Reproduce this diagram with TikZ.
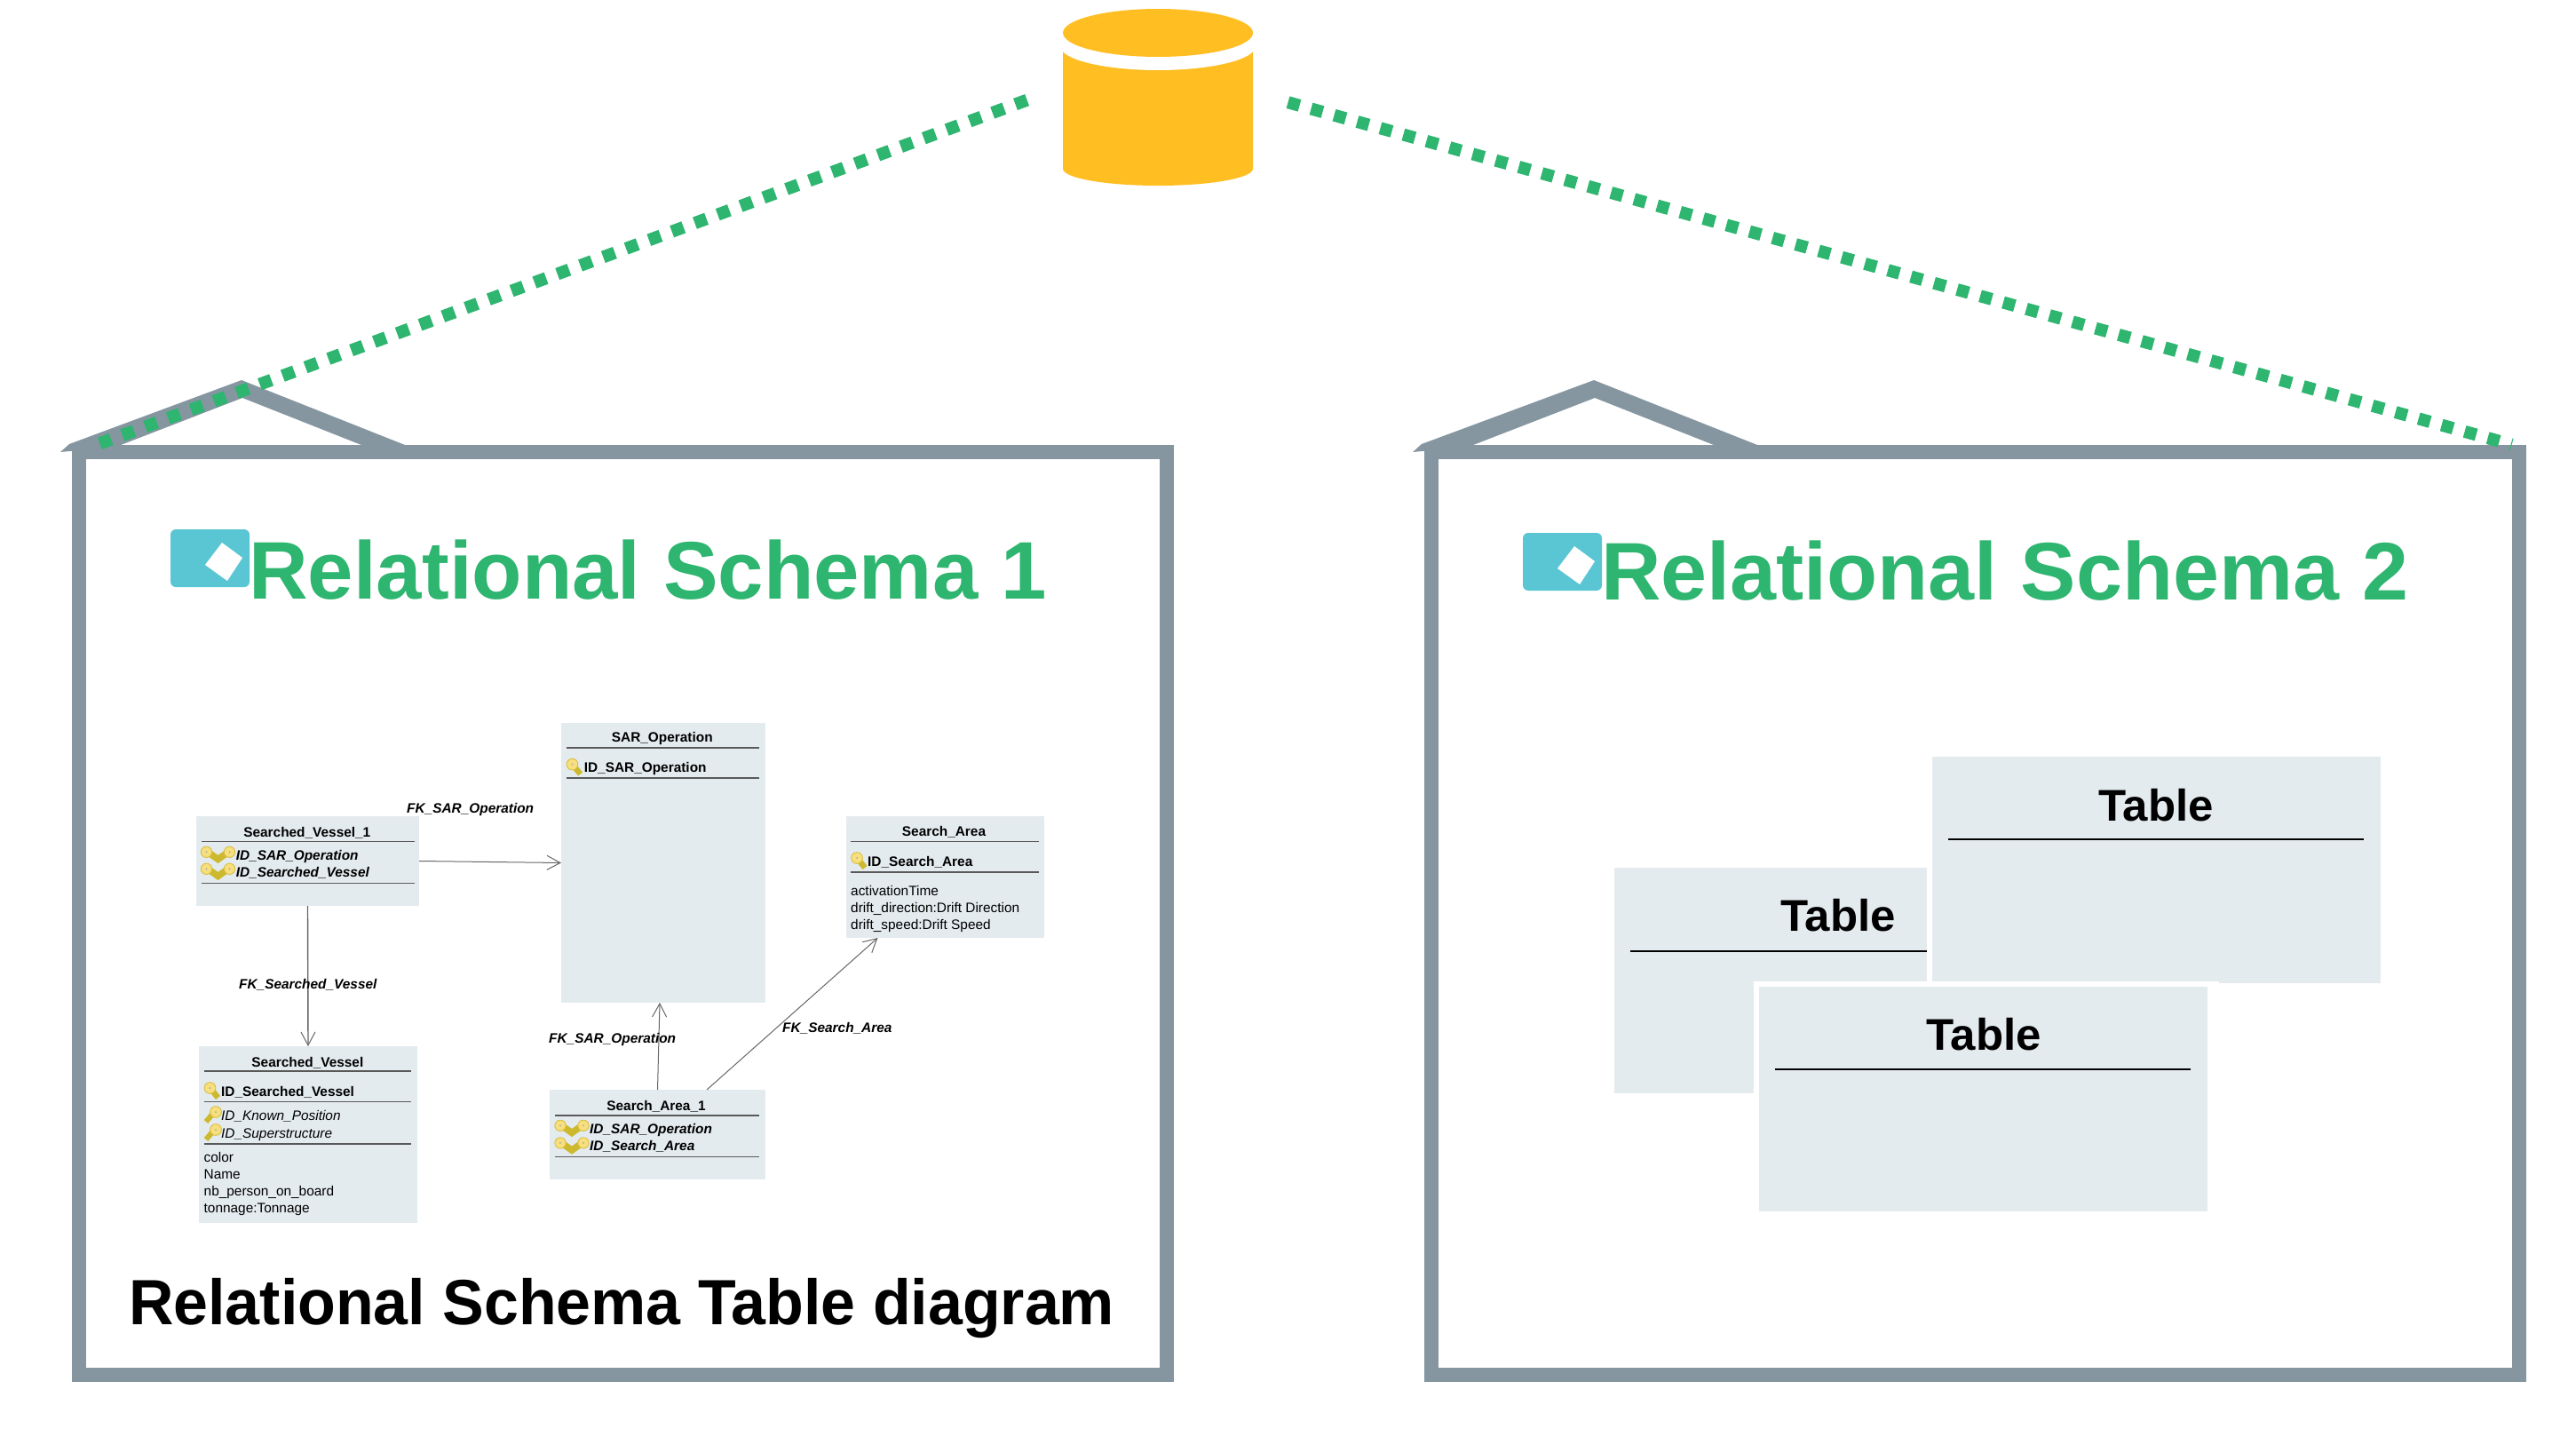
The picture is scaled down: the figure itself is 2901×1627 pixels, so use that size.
\documentclass[tikz,border=0pt]{standalone}
\usepackage{fontspec}
\setmainfont{Liberation Sans}
\usetikzlibrary{arrows.meta}
\definecolor{framegray}{HTML}{8596A1}
\definecolor{boxfill}{HTML}{E4EBEF}
\definecolor{schemagreen}{HTML}{2EB56F}
\definecolor{dbyellow}{HTML}{FFBE22}
\definecolor{iconteal}{HTML}{5BC6D3}
\definecolor{keyface}{HTML}{F6DF7C}
\definecolor{keyedge}{HTML}{D6BC3C}
\definecolor{keyshaft}{HTML}{CDB92E}
\newcommand{\smallsize}{\fontsize{15.4}{18}\selectfont}
\tikzset{
  framebox/.style={draw=framegray,line width=16pt,miter limit=10},
  roofshape/.style={fill=framegray},
  greendots/.style={draw=schemagreen,line width=14pt},
  tbox/.style={fill=boxfill,inner sep=0pt,outer sep=0pt},
  tblrule/.style={draw=black!65,line width=1.3pt},
  bigrule/.style={draw=black,line width=2pt},
  tbltitle/.style={inner sep=0pt,yshift=-1.5pt,font=\smallsize\bfseries},
  rowkey/.style={inner sep=0pt,yshift=-2.5pt,anchor=mid west,font=\smallsize\bfseries},
  rowfk/.style={inner sep=0pt,yshift=-2.5pt,anchor=mid west,font=\smallsize\bfseries\itshape},
  rowopt/.style={inner sep=0pt,yshift=-2.5pt,anchor=mid west,font=\smallsize\itshape},
  rowattr/.style={inner sep=0pt,yshift=-2.5pt,anchor=mid west,font=\smallsize},
  fklabel/.style={inner sep=0pt,yshift=-2.5pt,anchor=mid west,font=\smallsize\bfseries\itshape},
  fkline/.style={draw=black!60,line width=1pt,-{Straight Barb[length=15pt,width=16pt,line width=1pt]}},
  bigtitle/.style={inner sep=0pt,anchor=base west,text=schemagreen,font=\fontsize{92}{100}\selectfont\bfseries},
  tabletitle/.style={inner sep=0pt,xscale=1.02,font=\fontsize{50}{56}\selectfont\bfseries},
  keyl/.pic={
    \draw[keyshaft,line width=6.5pt] (8,-3) -- (16,7);
    \fill[keyface,draw=keyedge,line width=.8pt] (7,-4) circle (6.4);
    \fill[black!35] (7,-4) circle (1);
  },
  keyr/.pic={
    \draw[keyshaft,line width=6pt] (11,-3) -- (2.5,7);
    \fill[keyface,draw=keyedge,line width=.8pt] (13.5,-4) circle (6.4);
    \fill[black!35] (13.5,-4) circle (1);
  },
  keyd/.pic={
    \draw[keyshaft,line width=7.5pt] (8,-3) -- (18.5,4.5) -- (29,-3);
    \fill[keyface,draw=keyedge,line width=.8pt] (5.5,-3.7) circle (6.2);
    \fill[keyface,draw=keyedge,line width=.8pt] (31.5,-3.7) circle (6.2);
    \fill[black!35] (5.5,-3.7) circle (1);
    \fill[black!35] (31.5,-3.7) circle (1);
  },
  logoicon/.pic={
    \fill[iconteal,rounded corners=6pt] (192,596) rectangle (281,661);
    \fill[white] (250,611) -- (273,628) -- (256,654) -- (231,636) -- cycle;
  },
  roofpic/.pic={
    \path[roofshape] (68,509) -- (78,500) -- (272,428) -- (456,501) -- (412,503) -- (273,448) -- (131,503) -- cycle;
    \draw[framebox] (89,509) rectangle (1314,1548);
  }
}
\begin{document}
\begin{tikzpicture}[x=1pt,y=-1pt]
\useasboundingbox (0,0) rectangle (2901,1627);

% frames
\pic at (0,0) {roofpic};
\pic at (1523,0) {roofpic};

% database
\fill[dbyellow] (1197,58) -- (1197,190) arc[start angle=180,end angle=360,x radius=107,y radius=-19] -- (1411,58) -- cycle;
\fill[white] (1304,52) ellipse[x radius=110,y radius=27];
\fill[dbyellow] (1304,37) ellipse[x radius=107,y radius=27];

% dotted green links
\draw[greendots,dash pattern=on 14pt off 13.5pt] (1156.6,112.6) -- (112.4,499.4);
\draw[greendots,dash pattern=on 13.5pt off 13.48pt] (1450.5,115.2) -- (2828.6,500.7);

% headings
\pic at (0,0) {logoicon};
\pic at (1523,4) {logoicon};
\node[bigtitle,xscale=1.004] (title1) at (280,674) {Relational Schema 1};
\node[bigtitle,xscale=1.016] (title2) at (1803,675) {Relational Schema 2};
\node[inner sep=0pt,anchor=base west,xscale=0.971,font=\fontsize{72}{80}\selectfont\bfseries] (caption) at (145,1491) {Relational Schema Table diagram};

% schema 1 tables
\node[tbox,minimum width=251pt,minimum height=101pt] (sv1) at (346.5,969.5) {};
\node[tbox,minimum width=230pt,minimum height=315pt] (sar) at (747,971.5) {};
\node[tbox,minimum width=246pt,minimum height=199pt] (sv) at (347,1277.5) {};
\node[tbox,minimum width=243pt,minimum height=101pt] (sa1) at (740.5,1277.5) {};
\node[tbox,minimum width=223pt,minimum height=137pt] (sa) at (1064.5,987.5) {};

% Searched_Vessel_1
\node[tbltitle] (sv1t) at (345.8,936) {Searched\_Vessel\_1};
\draw[tblrule] (227,947.6) -- (466.5,947.6);
\pic at (227,963) {keyd};
\pic at (227,982) {keyd};
\node[rowfk] (sv1a) at (265.6,963) {ID\_SAR\_Operation};
\node[rowfk] (sv1b) at (265.6,982) {ID\_Searched\_Vessel};
\draw[tblrule] (227,994.6) -- (466.5,994.6);

% SAR_Operation
\node[tbltitle] (sart) at (745.8,830) {SAR\_Operation};
\draw[tblrule] (637.5,842) -- (855,842);
\pic at (637.5,864.6) {keyl};
\node[rowkey] (sara) at (657.6,864.6) {ID\_SAR\_Operation};
\draw[tblrule] (637.5,876) -- (855,876);

% Searched_Vessel
\node[tbltitle] (svt) at (346.4,1195) {Searched\_Vessel};
\draw[tblrule] (229.5,1206) -- (463.4,1206);
\pic at (229.5,1229) {keyl};
\node[rowkey] (sva) at (249,1229) {ID\_Searched\_Vessel};
\draw[tblrule] (229.5,1240.5) -- (463.4,1240.5);
\pic at (229.5,1256) {keyr};
\pic at (229.5,1276) {keyr};
\node[rowopt] (svb) at (249,1256) {ID\_Known\_Position};
\node[rowopt] (svc) at (249,1276) {ID\_Superstructure};
\draw[tblrule] (229.5,1288) -- (463.4,1288);
\node[rowattr] (svd) at (229.5,1303) {color};
\node[rowattr] (sve) at (229.5,1322.7) {Name};
\node[rowattr] (svf) at (229.5,1341.7) {nb\_person\_on\_board};
\node[rowattr] (svg) at (229.5,1360.6) {tonnage:Tonnage};

% Search_Area_1
\node[tbltitle] (sa1t) at (739,1244) {Search\_Area\_1};
\draw[tblrule] (624.5,1256) -- (855,1256);
\pic at (625.5,1271) {keyd};
\pic at (625.5,1290.6) {keyd};
\node[rowfk] (sa1a) at (664,1271) {ID\_SAR\_Operation};
\node[rowfk] (sa1b) at (664,1290.6) {ID\_Search\_Area};
\draw[tblrule] (624.5,1302.5) -- (855,1302.5);

% Search_Area
\node[tbltitle] (sat) at (1063,935.7) {Search\_Area};
\draw[tblrule] (958,947.7) -- (1170,947.7);
\pic at (958,970) {keyl};
\node[rowkey] (saa) at (977,970) {ID\_Search\_Area};
\draw[tblrule] (958,982) -- (1170,982);
\node[rowattr] (sab) at (958,1003) {activationTime};
\node[rowattr] (sac) at (958,1022) {drift\_direction:Drift Direction};
\node[rowattr] (sad) at (958,1041) {drift\_speed:Drift Speed};

% connectors
\draw[fkline] (sv1.east) -- (sar.west);
\draw[fkline,line width=1.4pt] (sv1.south) -- (sv.north);
\draw[fkline] (sa1.north) -- ([xshift=-4pt]sar.south);
\draw[fkline] ([xshift=55.5pt]sa1.north) -- ([xshift=-76pt]sa.south);

\node[fklabel] (fk1) at (458,910) {FK\_SAR\_Operation};
\node[fklabel] (fk2) at (269,1108) {FK\_Searched\_Vessel};
\node[fklabel] (fk3) at (618,1169) {FK\_SAR\_Operation};
\node[fklabel] (fk4) at (881,1157) {FK\_Search\_Area};

% schema 2 tables
\node[tbox,minimum width=351.6pt,minimum height=254.3pt] (tl) at (1994.2,1103.9) {};
\node[tbox,minimum width=505.4pt,minimum height=254.6pt] (tr) at (2428.3,979.3) {};
\fill[white] (1975,1105) rectangle (2499,1111);
\fill[white] (1975,1105) rectangle (1981,1231);
\node[tbox,minimum width=505pt,minimum height=253pt] (tb) at (2233.5,1237.5) {};
\node[tabletitle] (tlt) at (2070,1030.7) {Table};
\draw[bigrule] (1836,1070.6) -- (2170,1070.6);
\node[tabletitle] (trt) at (2428,907) {Table};
\draw[bigrule] (2194,945) -- (2662,945);
\node[tabletitle] (tbt) at (2234,1164.5) {Table};
\draw[bigrule] (1999,1203.6) -- (2467,1203.6);
\end{tikzpicture}
\end{document}
